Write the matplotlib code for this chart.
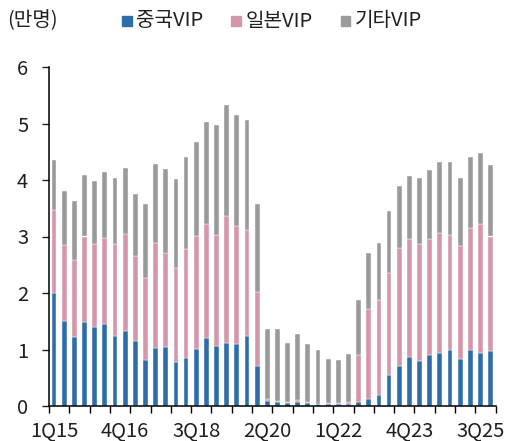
import matplotlib
matplotlib.use("Agg")
import matplotlib.pyplot as plt
from matplotlib.patches import Rectangle
import numpy as np

plt.rcParams['font.family'] = ['Noto Sans CJK KR', 'DejaVu Sans']

# Quarterly casino visitors (10k persons), 1Q15 onward
quarters = [f"{q}Q{y:02d}" for y in range(15, 26) for q in range(1, 5)]
china = [2.00, 1.51, 1.22, 1.48, 1.40, 1.46, 1.24, 1.32, 1.15, 0.81, 1.03,
         1.04, 0.78, 0.85, 1.01, 1.21, 1.06, 1.12, 1.10, 1.24, 0.71, 0.09,
         0.07, 0.06, 0.07, 0.05, 0.03, 0.04, 0.04, 0.04, 0.07, 0.12, 0.19,
         0.55, 0.71, 0.87, 0.80, 0.91, 0.94, 0.99, 0.83, 0.99, 0.94, 0.97]
japan = [1.47, 1.34, 1.36, 1.52, 1.46, 1.51, 1.62, 1.72, 1.50, 1.46, 1.85,
         1.67, 1.66, 1.92, 1.99, 2.01, 1.96, 2.24, 2.09, 1.88, 1.30, 0.03,
         0.02, 0.01, 0.03, 0.015, 0.01, 0.005, 0.005, 0.03, 0.83, 1.59, 1.68,
         1.80, 2.09, 2.09, 2.07, 2.04, 2.12, 2.04, 2.01, 2.16, 2.28, 2.03]
other = [0.88, 0.95, 1.05, 1.08, 1.13, 1.17, 1.17, 1.17, 1.11, 1.30, 1.40,
         1.48, 1.58, 1.64, 1.67, 1.81, 1.96, 1.97, 1.96, 1.94, 1.57, 1.25,
         1.27, 1.04, 1.17, 1.025, 0.95, 0.785, 0.775, 0.85, 0.97, 0.99, 1.01,
         1.10, 1.10, 1.11, 1.17, 1.22, 1.26, 1.29, 1.20, 1.26, 1.25, 1.27]
series_names = ["중국VIP", "일본VIP", "기타VIP"]
colors = ["#2E6DA9", "#D596AB", "#9A9A9A"]
unit_label = "(만명)"

n = len(china)
labels = quarters[:n]
x = np.arange(n)
china = np.array(china)
japan = np.array(japan)
other = np.array(other)

W, H = 506, 441
fig = plt.figure(figsize=(W / 100, H / 100), dpi=100)
ax = fig.add_axes([49 / W, 1 - 406 / H, (495.7 - 49) / W, (406 - 67) / H])

bw = 0.47
ax.bar(x, china, bw, color=colors[0], edgecolor='white', linewidth=0.3)
ax.bar(x, japan, bw, bottom=china, color=colors[1], edgecolor='white', linewidth=0.3)
ax.bar(x, other, bw, bottom=china + japan, color=colors[2], edgecolor='white', linewidth=0.3)

ax.set_xlim(-0.5, n - 0.5)
ax.set_ylim(0, 6)

text_color = '#1f1f1f'
fs = 14.5

# y axis
ax.set_yticks(range(0, 7))
ax.tick_params(axis='y', direction='out', length=5, width=1, pad=14,
               labelsize=fs, colors=text_color)
for t in ax.get_yticklabels():
    t.set_horizontalalignment('center')

# x axis: boundary ticks every two quarters, labels every seven quarters
ax.set_xticks(np.arange(-0.5, n, 2), minor=True)
ax.set_xticks(x[::7])
ax.set_xticklabels([labels[i] for i in x[::7]])
ax.tick_params(axis='x', which='minor', direction='out', length=5, width=1)
ax.tick_params(axis='x', which='major', length=0, pad=10.5, labelsize=fs,
               colors=text_color)

for s in ['top', 'right']:
    ax.spines[s].set_visible(False)
for s in ['left', 'bottom']:
    ax.spines[s].set_linewidth(1.1)
    ax.spines[s].set_color('black')

# unit label and legend row
fig.text(7 / W, 1 - 21 / H, unit_label, fontsize=fs, color=text_color,
         ha='left', va='center')
legend_x = [122, 231.5, 341]
for xs, name, c in zip(legend_x, series_names, colors):
    fig.patches.append(Rectangle((xs / W, 1 - 25.8 / H), 9.5 / W, 9.5 / H,
                                 transform=fig.transFigure, color=c))
    fig.text((xs + 14) / W, 1 - 21 / H, name, fontsize=fs, color=text_color,
             ha='left', va='center')

fig.savefig("out.png", dpi=100)
